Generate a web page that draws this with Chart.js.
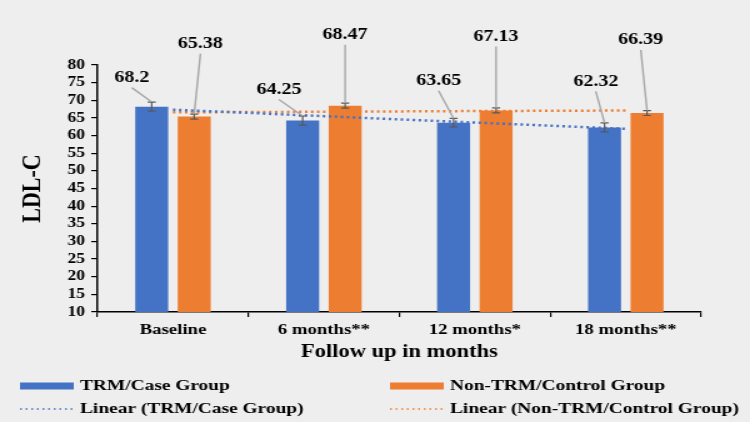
<!DOCTYPE html>
<html>
<head>
<meta charset="utf-8">
<script src="https://cdn.jsdelivr.net/npm/chart.js@4"></script>
<style>
  html, body { margin: 0; padding: 0; background: #eeeeee; overflow: hidden; }
  /* the reference is horizontally stretched, so draw narrow and stretch */
  #wrap { width: 600px; height: 422px; transform: scaleX(1.25); transform-origin: 0 0; }
</style>
</head>
<body>
<div id="wrap"><canvas id="c" width="600" height="422"></canvas></div>
<script>
const categories = ["Baseline", "6 months**", "12 months*", "18 months**"]
const trmValues = [68.2, 64.25, 63.65, 62.32]
const controlValues = [65.38, 68.47, 67.13, 66.39]
const trmErrors = [1.3, 1.3, 1.2, 1.3]
const controlErrors = [0.7, 0.7, 0.7, 0.7]
const trmTrend = [67.35, 65.5, 63.7, 61.9]
const controlTrend = [66.6, 66.75, 66.95, 67.1]
const yMin = 10
const yMax = 80
const yStep = 5

const blue = "#4472C4"
const orange = "#ED7D31"
const serif = "'Liberation Serif', 'Times New Roman', serif"

// label offsets from the bar top (canvas px), [dx, dy]
const labelOffsets = [
  [[-16, -29], [-19, -31], [-12, -42], [-7, -46]],
  [[5, -73], [0, -71], [0, -74], [-5, -73]]
]
const errorSets = [trmErrors, controlErrors]

const barExtras = {
  id: "barExtras",
  afterDatasetsDraw(chart) {
    const ctx = chart.ctx
    const y = chart.scales.y
    ctx.save()
    for (let d = 0; d < 2; d++) {
      const meta = chart.getDatasetMeta(d)
      const vals = chart.data.datasets[d].data
      meta.data.forEach((bar, i) => {
        const err = errorSets[d][i]
        const yTop = y.getPixelForValue(vals[i] + err)
        const yBot = y.getPixelForValue(vals[i] - err)
        // error bar
        ctx.strokeStyle = "#595959"
        ctx.lineWidth = 1.2
        ctx.beginPath()
        ctx.moveTo(bar.x, yTop); ctx.lineTo(bar.x, yBot)
        ctx.moveTo(bar.x - 3.2, yTop); ctx.lineTo(bar.x + 3.2, yTop)
        ctx.moveTo(bar.x - 3.2, yBot); ctx.lineTo(bar.x + 3.2, yBot)
        ctx.stroke()
        // leader line + value label
        const off = labelOffsets[d][i]
        const lx = bar.x + off[0]
        const ly = bar.y + off[1]
        ctx.strokeStyle = "#a6a6a6"
        ctx.lineWidth = 1.4
        ctx.beginPath()
        ctx.moveTo(lx, ly + 10)
        ctx.lineTo(bar.x, yTop)
        ctx.stroke()
        ctx.fillStyle = "#000"
        ctx.font = "bold 16px " + serif
        ctx.textAlign = "center"
        ctx.textBaseline = "middle"
        ctx.fillText(String(vals[i]), lx, ly)
      })
    }
    ctx.restore()
  }
}

const legendBox = {
  id: "legendBox",
  afterDraw(chart) {
    const ctx = chart.ctx
    const ds = chart.data.datasets
    const spots = [[16, 386], [312, 386], [16, 409], [312, 409]]
    ctx.save()
    ds.forEach((d, i) => {
      const [x, yy] = spots[i]
      if (d.type === "line") {
        ctx.strokeStyle = d.borderColor
        ctx.lineWidth = 1.5
        ctx.setLineDash([1.5, 3])
        ctx.beginPath()
        ctx.moveTo(x, yy); ctx.lineTo(x + 43, yy)
        ctx.stroke()
        ctx.setLineDash([])
      } else {
        ctx.fillStyle = d.backgroundColor
        ctx.fillRect(x, yy - 3.5, 43, 7)
      }
      ctx.fillStyle = "#000"
      ctx.font = "bold 15.5px " + serif
      ctx.textAlign = "left"
      ctx.textBaseline = "middle"
      ctx.fillText(d.label, x + 48, yy)
    })
    ctx.restore()
  }
}

new Chart(document.getElementById("c"), {
  type: "bar",
  data: {
    labels: categories,
    datasets: [
      { label: "TRM/Case Group", data: trmValues, backgroundColor: blue, order: 1,
        categoryPercentage: 0.563, barPercentage: 0.776 },
      { label: "Non-TRM/Control Group", data: controlValues, backgroundColor: orange, order: 1,
        categoryPercentage: 0.563, barPercentage: 0.776 },
      { type: "line", label: "Linear (TRM/Case Group)", data: trmTrend, borderColor: blue,
        borderWidth: 2.5, borderDash: [2, 2.8], pointRadius: 0, fill: false, order: 0 },
      { type: "line", label: "Linear (Non-TRM/Control Group)", data: controlTrend, borderColor: orange,
        borderWidth: 2.5, borderDash: [2, 2.8], pointRadius: 0, fill: false, order: 0 }
    ]
  },
  options: {
    responsive: false,
    animation: false,
    events: [],
    layout: { padding: { left: 0, right: 39, top: 65, bottom: 50 } },
    plugins: { legend: { display: false }, tooltip: { enabled: false } },
    scales: {
      x: {
        afterFit: (s) => { s.height = 60 },
        border: { color: "#000", width: 1.5 },
        grid: { drawOnChartArea: false, color: "#000", tickLength: 5, lineWidth: 1.2 },
        ticks: { color: "#000", padding: 4, maxRotation: 0, font: { family: serif, size: 15, weight: "bold" } },
        title: { display: true, text: "Follow up in months", color: "#000",
          padding: { top: 0, bottom: 9 }, font: { family: serif, size: 18, weight: "bold" } }
      },
      y: {
        min: yMin,
        max: yMax,
        afterFit: (s) => { s.width = 78 },
        border: { color: "#000", width: 1.5 },
        grid: { drawOnChartArea: false, color: "#000", tickLength: 5, lineWidth: 1.2 },
        ticks: { stepSize: yStep, autoSkip: false, color: "#000", padding: 5,
          font: { family: serif, size: 14, weight: "bold" } },
        title: { display: true, text: "LDL-C", color: "#000",
          padding: { top: 13, bottom: 0 }, font: { family: serif, size: 22, weight: "bold" } }
      }
    }
  },
  plugins: [barExtras, legendBox]
})
</script>
</body>
</html>
